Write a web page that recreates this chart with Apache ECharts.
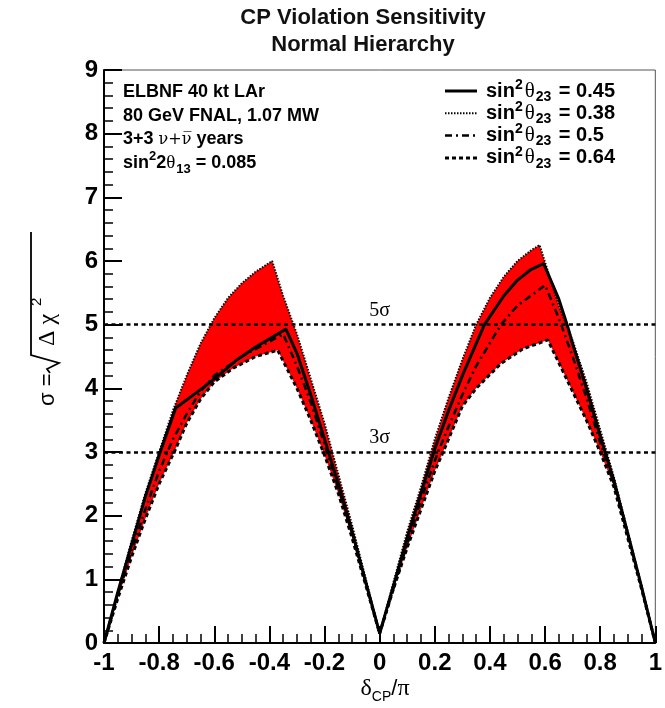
<!DOCTYPE html>
<html>
<head>
<meta charset="utf-8">
<script src="https://cdn.jsdelivr.net/npm/echarts@6/dist/echarts.min.js"></script>
<style>html,body{margin:0;padding:0;background:#fff}#main{width:665px;height:708px}</style>
</head>
<body>
<div id="main"></div>
<script>
// sqrt(delta chi2) vs deltaCP/pi
var s038 = [[-1,0],[-0.95,0.8],[-0.9,1.6],[-0.85,2.35],[-0.8,3.0],[-0.75,3.65],[-0.7,4.2],[-0.65,4.7],[-0.6,5.1],[-0.55,5.42],[-0.5,5.65],[-0.45,5.83],[-0.39,6.0],[-0.35,5.45],[-0.3,4.85],[-0.25,4.15],[-0.2,3.45],[-0.15,2.65],[-0.1,1.85],[-0.05,1.0],[0,0.15],[0.05,0.95],[0.1,1.75],[0.15,2.45],[0.2,3.2],[0.25,3.85],[0.3,4.45],[0.35,5.0],[0.4,5.42],[0.45,5.75],[0.5,6.0],[0.55,6.17],[0.58,6.25],[0.65,5.3],[0.7,4.75],[0.75,4.1],[0.8,3.35],[0.85,2.6],[0.9,1.75],[0.95,0.9],[1,0]];
var s045 = [[-1,0],[-0.95,0.8],[-0.9,1.55],[-0.85,2.3],[-0.8,2.95],[-0.74,3.69],[-0.65,3.98],[-0.6,4.15],[-0.52,4.44],[-0.45,4.65],[-0.34,4.93],[-0.3,4.55],[-0.25,3.9],[-0.2,3.2],[-0.15,2.5],[-0.1,1.75],[-0.05,0.95],[0,0.15],[0.05,0.9],[0.1,1.65],[0.15,2.35],[0.2,3.05],[0.25,3.65],[0.3,4.2],[0.38,5.0],[0.45,5.45],[0.5,5.7],[0.55,5.87],[0.595,5.96],[0.65,5.4],[0.68,5.0],[0.7,4.7],[0.75,4.0],[0.8,3.25],[0.85,2.55],[0.9,1.72],[0.95,0.88],[1,0]];
var s050 = [[-1,0],[-0.95,0.75],[-0.9,1.45],[-0.85,2.1],[-0.8,2.7],[-0.75,3.2],[-0.7,3.6],[-0.65,3.95],[-0.6,4.2],[-0.5,4.5],[-0.35,4.85],[-0.3,4.35],[-0.25,3.78],[-0.2,3.12],[-0.15,2.45],[-0.1,1.72],[-0.05,0.93],[0,0.15],[0.05,0.85],[0.1,1.55],[0.15,2.25],[0.21,2.98],[0.25,3.4],[0.3,3.9],[0.35,4.35],[0.44,5.0],[0.5,5.3],[0.6,5.62],[0.65,5.1],[0.7,4.5],[0.75,3.85],[0.8,3.15],[0.85,2.5],[0.9,1.7],[0.95,0.87],[1,0]];
var s064 = [[-1,0],[-0.95,0.7],[-0.9,1.35],[-0.85,1.95],[-0.8,2.5],[-0.74,3.05],[-0.7,3.45],[-0.65,3.83],[-0.6,4.1],[-0.53,4.32],[-0.45,4.5],[-0.37,4.6],[-0.3,4.0],[-0.25,3.5],[-0.2,2.95],[-0.15,2.35],[-0.1,1.65],[-0.05,0.9],[0,0.15],[0.05,0.85],[0.1,1.5],[0.15,2.1],[0.2,2.7],[0.24,3.1],[0.3,3.72],[0.35,4.0],[0.44,4.39],[0.52,4.62],[0.61,4.76],[0.65,4.4],[0.7,3.95],[0.75,3.5],[0.8,3.0],[0.85,2.45],[0.9,1.65],[0.95,0.85],[1,0]];
var sigmaLevels = [5, 3];
var sigmaNames = ['5σ', '3σ'];
var legendNames = ['0.45', '0.38', '0.5', '0.64'];
var infoLines = [
    '{t|ELBNF 40 kt LAr}',
    '{t|80 GeV FNAL, 1.07 MW}',
    '{t|3+3 }{n|ν+ν\u0305}{t| years}',
    '{t|sin}{p|2}{t|2}{g|θ}{b|13}{t| = 0.085}'
];

var FONT = '"Liberation Sans", Arial, sans-serif';
var GREEK = '"Liberation Serif", "DejaVu Serif", serif';

var solidStyle = {width: 3, type: 'solid'};
var dotStyle = {width: 2, type: [1.5, 1.5]};
var dashDotStyle = {width: 2.5, type: [7, 4, 2, 4]};
var dashStyle = {width: 3, type: [4, 3]};

var myChart = echarts.init(document.getElementById('main'));

function curve(name, data, st) {
    return {
        name: name, type: 'line', data: data, showSymbol: false, symbol: 'none',
        z: 3, silent: true, animation: false,
        lineStyle: {color: '#000', width: st.width, type: st.type}
    };
}

function richSet(big, small, greek, gap) {
    return {
        t: {fontFamily: FONT, fontWeight: 'bold', fontSize: big, fill: '#000', lineHeight: 26},
        p: {fontFamily: FONT, fontWeight: 'bold', fontSize: small, fill: '#000', verticalAlign: 'top', lineHeight: 26},
        b: {fontFamily: FONT, fontWeight: 'bold', fontSize: small, fill: '#000', verticalAlign: 'bottom', lineHeight: 26, padding: [0, gap, 0, 0]},
        g: {fontFamily: GREEK, fontSize: greek, fill: '#000', lineHeight: 26, padding: [0, 1, 0, gap]},
        n: {fontFamily: '"DejaVu Serif", serif', fontSize: big - 2, fill: '#000', lineHeight: 26}
    };
}

var graphics = [];
// title
graphics.push({type: 'text', x: 363, y: 18, style: {text: 'CP Violation Sensitivity', font: 'bold 22px ' + FONT, fill: '#111', align: 'center', verticalAlign: 'middle'}});
graphics.push({type: 'text', x: 363, y: 45, style: {text: 'Normal Hierarchy', font: 'bold 22px ' + FONT, fill: '#111', align: 'center', verticalAlign: 'middle'}});
// info box
infoLines.forEach(function (s, i) {
    graphics.push({type: 'text', x: 123, y: 92 + i * 23.7, style: {text: s, rich: richSet(18, 13, 19, 0), verticalAlign: 'middle', align: 'left'}});
});
// legend
var legendStyles = [solidStyle, dotStyle, dashDotStyle, dashStyle];
legendNames.forEach(function (v, i) {
    var y = 91 + i * 22.3;
    graphics.push({type: 'line', shape: {x1: 445, y1: y, x2: 477, y2: y}, style: {stroke: '#000', lineWidth: legendStyles[i].width, lineDash: legendStyles[i].type === 'solid' ? null : legendStyles[i].type}});
    graphics.push({type: 'text', x: 486, y: y, style: {text: '{t|sin}{p|2}{g|θ}{b|23}{t| = ' + v + '}', rich: richSet(20, 14, 21, 2), verticalAlign: 'middle', align: 'left'}});
});
// y axis title: sigma = sqrt(delta chi2)
graphics.push({
    type: 'group', x: 48, y: 318, rotation: Math.PI / 2,
    children: [
        {type: 'text', x: -88, y: 0, style: {text: 'σ =', font: '22px ' + FONT, fill: '#000', verticalAlign: 'middle'}},
        {type: 'polyline', shape: {points: [[-55, 2], [-51, -1], [-45, 11], [-37, -17], [86, -17]]}, style: {stroke: '#000', lineWidth: 1.8, fill: null}},
        {type: 'text', x: -28, y: 0, style: {text: 'Δ χ', font: '24px ' + GREEK, fill: '#000', verticalAlign: 'middle'}},
        {type: 'text', x: 12, y: -11, style: {text: '2', font: '15px ' + FONT, fill: '#000', verticalAlign: 'middle'}}
    ]
});
// x axis title
graphics.push({type: 'text', x: 385, y: 689, style: {text: '{g|δ}{b|CP}{t|/}{g|π}', rich: {
    g: {fontFamily: GREEK, fontSize: 24, fill: '#000', lineHeight: 30},
    t: {fontFamily: FONT, fontSize: 22, fill: '#000', lineHeight: 30},
    b: {fontFamily: FONT, fontSize: 14, fill: '#000', verticalAlign: 'bottom', lineHeight: 30}
}, align: 'center', verticalAlign: 'middle'}});

var labelStyle = {color: '#000', fontFamily: FONT, fontWeight: 'bold', fontSize: 24};

option = {
    animation: false,
    backgroundColor: '#fff',
    grid: {left: 104, right: 6, top: 70, bottom: 65, show: true, borderColor: '#555', borderWidth: 1, backgroundColor: 'transparent'},
    xAxis: {
        type: 'value', min: -1, max: 1, interval: 0.2,
        axisLine: {show: true, onZero: false, lineStyle: {color: '#000', width: 2}},
        axisTick: {show: true, inside: true, length: 17, lineStyle: {color: '#000', width: 2}},
        minorTick: {show: true, splitNumber: 4, length: 9, lineStyle: {color: '#000', width: 1.5}},
        axisLabel: Object.assign({margin: 8}, labelStyle),
        splitLine: {show: false}
    },
    yAxis: {
        type: 'value', min: 0, max: 9, interval: 1,
        axisLine: {show: true, onZero: false, lineStyle: {color: '#000', width: 2}},
        axisTick: {show: true, inside: true, length: 18, lineStyle: {color: '#000', width: 2}},
        minorTick: {show: true, splitNumber: 5, length: 9, lineStyle: {color: '#000', width: 1.5}},
        axisLabel: Object.assign({margin: 6}, labelStyle),
        splitLine: {show: false}
    },
    graphic: graphics,
    series: [
        {
            type: 'custom', z: 1, silent: true, data: [[0, 0]],
            renderItem: function (params, api) {
                var pts = s038.map(function (p) { return api.coord(p); })
                    .concat(s064.slice().reverse().map(function (p) { return api.coord(p); }));
                return {type: 'polygon', shape: {points: pts}, style: {fill: '#ff0000', stroke: null}};
            }
        },
        curve('0.38', s038, dotStyle),
        curve('0.64', s064, dashStyle),
        curve('0.5', s050, dashDotStyle),
        Object.assign(curve('0.45', s045, solidStyle), {
            markLine: {
                silent: true, symbol: 'none', z: 5, animation: false,
                lineStyle: {color: '#000', width: 2.5, type: [4, 3.5]},
                label: {position: 'insideMiddleTop', distance: 4, color: '#000', fontFamily: GREEK, fontSize: 20},
                data: sigmaLevels.map(function (v, i) { return {yAxis: v, label: {formatter: sigmaNames[i]}}; })
            }
        })
    ]
};

if (option && typeof option === "object") {
    myChart.setOption(option, true);
}
</script>
</body>
</html>
